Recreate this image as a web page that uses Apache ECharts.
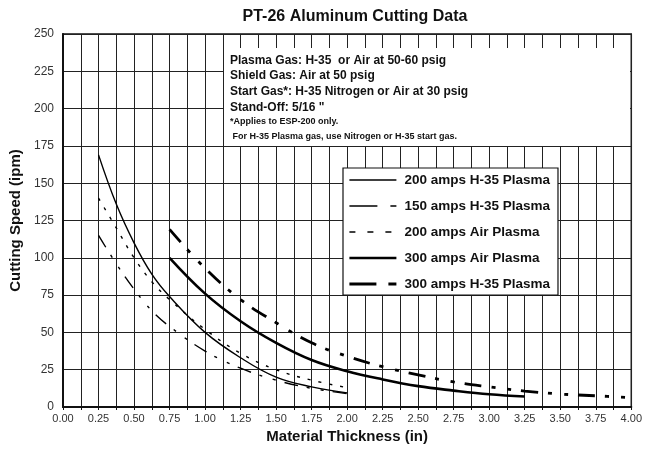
<!DOCTYPE html>
<html><head><meta charset="utf-8">
<script src="https://cdn.jsdelivr.net/npm/echarts@6/dist/echarts.min.js"></script>
<style>html,body{margin:0;padding:0;background:#fff}#c{width:645px;height:450px}</style>
</head><body><div id="c"></div>
<script>
// ---- data ----
const seriesNames = ["200 amps H-35 Plasma", "150 amps H-35 Plasma", "200 amps Air Plasma", "300 amps Air Plasma", "300 amps H-35 Plasma"];
const h35_200_x = [0.25, 0.375, 0.5, 0.625, 0.75, 1.0, 1.25, 1.5, 1.75, 2.0];
const h35_200_y = [169, 136, 110, 89, 74, 50, 33, 20, 13.5, 9.5];
const h35_150_x = [0.25, 0.375, 0.5, 0.625, 0.75, 1.0, 1.25, 1.5, 1.75, 2.0];
const h35_150_y = [115, 96, 79, 64.5, 54, 37.5, 26, 18, 12.5, 9];
const air_200_x = [0.25, 0.375, 0.5, 0.625, 0.75, 1.0, 1.25, 1.5, 1.75, 2.0];
const air_200_y = [140, 120, 100, 84, 72, 52, 36, 25, 18, 13];
const air_300_x = [0.75, 1.0, 1.25, 1.5, 1.75, 2.0, 2.25, 2.5, 2.75, 3.0, 3.25];
const air_300_y = [100, 76, 57.5, 43, 31.5, 24, 18.5, 14, 11, 8.5, 7];
const h35_300_x = [0.75, 1.0, 1.25, 1.5, 1.75, 2.0, 2.25, 2.5, 2.75, 3.0, 3.25, 3.5, 3.75, 4.0];
const h35_300_y = [119, 93, 72, 56.5, 43, 34, 27, 21.5, 16.8, 13.5, 10.7, 8.7, 7.5, 6.3];
const noteLines = ["Plasma Gas: H-35  or Air at 50-60 psig", "Shield Gas: Air at 50 psig", "Start Gas*: H-35 Nitrogen or Air at 30 psig", "Stand-Off: 5/16 \""];
const footLines = ["*Applies to ESP-200 only.", " For H-35 Plasma gas, use Nitrogen or H-35 start gas."];

const FF = '"Liberation Sans", Arial, Helvetica, sans-serif';
const pairs = (xs, ys) => xs.map((x, i) => [x, ys[i]]);

const styles = [
  {width: 1.4, type: 'solid', legendType: 'solid'},
  {width: 1.4, type: [14, 9, 3, 11, 3, 9], legendType: [28, 13, 6, 0]},
  {width: 1.4, type: [3, 8], legendType: [6, 12]},
  {width: 2.6, type: 'solid', legendType: 'solid'},
  {width: 2.8, type: [17, 10, 4, 12, 4, 10], legendType: [27, 12, 8, 0]}
];
const datas = [pairs(h35_200_x, h35_200_y), pairs(h35_150_x, h35_150_y), pairs(air_200_x, air_200_y), pairs(air_300_x, air_300_y), pairs(h35_300_x, h35_300_y)];

const chart = echarts.init(document.getElementById('c'), null, {renderer: 'canvas'});
const graphics = [{
  type: 'rect', z: 3, silent: true,
  shape: {x: 224, y: 48, width: 406, height: 98},
  style: {fill: '#fff'}
}];
const noteY = [62, 77, 93, 108.5];
noteLines.forEach((t, i) => graphics.push({type: 'text', z: 4, left: 230, top: noteY[i] - 7,
  style: {text: t, font: 'bold 12px ' + FF, fill: '#111'}}));
const footY = [122, 137];
footLines.forEach((t, i) => graphics.push({type: 'text', z: 4, left: 230, top: footY[i] - 5,
  style: {text: t, font: 'bold 9px ' + FF, fill: '#111'}}));

chart.setOption({
  backgroundColor: '#fff',
  animation: false,
  textStyle: {fontFamily: FF},
  title: {text: 'PT-26 Aluminum Cutting Data', left: 350, textAlign: 'center', top: 4,
    textStyle: {fontSize: 16, fontWeight: 'bold', color: '#111', fontFamily: FF}},
  grid: {left: 63, right: 13, top: 34, bottom: 43, show: true, borderColor: '#111', borderWidth: 1.5, backgroundColor: 'transparent'},
  legend: {
    orient: 'vertical', left: 343, top: 168,
    itemWidth: 47, itemHeight: 14, itemGap: 12,
    backgroundColor: '#fff', borderColor: '#111', borderWidth: 1.2,
    padding: [5, 8, 4, 5],
    selectedMode: false,
    itemStyle: {color: 'rgba(0,0,0,0)', borderWidth: 0, opacity: 0},
    textStyle: {fontSize: 13.5, fontWeight: 'bold', color: '#111', fontFamily: FF, padding: [0, 0, 0, 3]},
    data: seriesNames.map((n, i) => ({
      name: n,
      lineStyle: {color: '#000', width: styles[i].width, type: styles[i].legendType, cap: 'butt'}
    }))
  },
  xAxis: {
    type: 'value', min: 0, max: 4, interval: 0.25,
    name: 'Material Thickness (in)', nameLocation: 'middle', nameGap: 22,
    nameTextStyle: {fontSize: 15, fontWeight: 'bold', color: '#111', fontFamily: FF},
    axisLine: {show: true, lineStyle: {color: '#111', width: 2}},
    axisTick: {show: true, length: 3, lineStyle: {color: '#111'}},
    minorTick: {show: true, splitNumber: 2, length: 3, lineStyle: {color: '#111'}},
    axisLabel: {fontSize: 11, color: '#333', margin: 6, formatter: v => v.toFixed(2)},
    splitLine: {show: true, lineStyle: {color: '#222', width: 1}},
    minorSplitLine: {show: true, lineStyle: {color: '#222', width: 1}}
  },
  yAxis: {
    type: 'value', min: 0, max: 250, interval: 25,
    name: 'Cutting Speed (ipm)', nameLocation: 'middle', nameGap: 40, nameRotate: 90,
    nameTextStyle: {fontSize: 15, fontWeight: 'bold', color: '#111', fontFamily: FF},
    axisLine: {show: true, lineStyle: {color: '#111', width: 2}},
    axisTick: {show: false},
    axisLabel: {fontSize: 12, color: '#333', margin: 9},
    splitLine: {show: true, lineStyle: {color: '#222', width: 1}}
  },
  graphic: graphics,
  series: seriesNames.map((n, i) => ({
    name: n, type: 'line', data: datas[i], smooth: 0.4,
    symbol: 'none', showSymbol: false, z: 5,
    lineStyle: {color: '#000', width: styles[i].width, type: styles[i].type, cap: 'butt'},
    itemStyle: {color: '#000'}
  }))
});
</script></body></html>
